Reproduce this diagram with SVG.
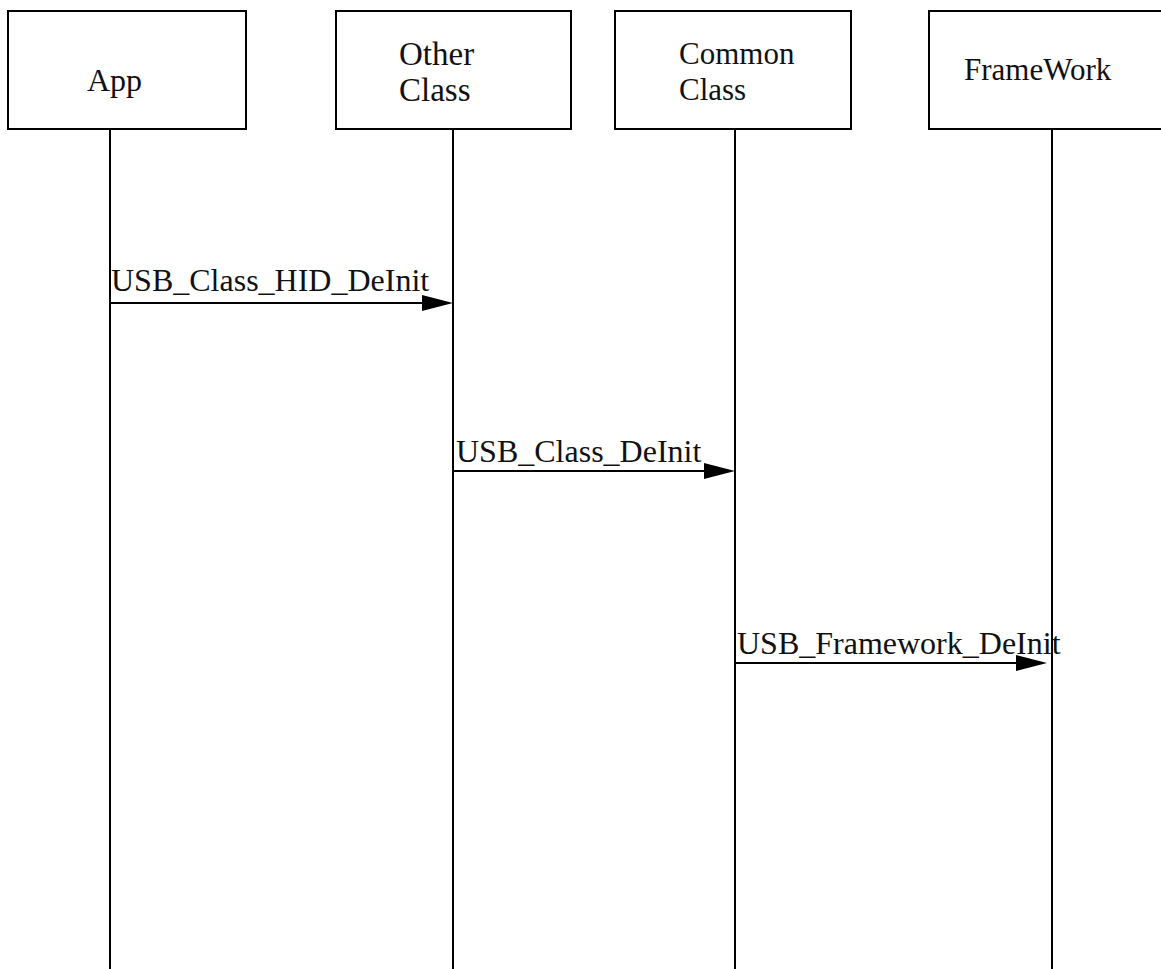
<svg xmlns="http://www.w3.org/2000/svg" width="1161" height="969" viewBox="0 0 1161 969">
  <style>
    .box { fill: #ffffff; stroke: #000000; stroke-width: 2; }
    .life { stroke: #000000; stroke-width: 2; fill: none; }
    .msg { stroke: #000000; stroke-width: 2; fill: none; }
    .head { fill: #000000; stroke: none; }
    text { font-family: "Liberation Serif", "Times New Roman", serif; font-size: 31px; fill: #111111; }
    .lbl { font-size: 32px; }
    .big { font-size: 33px; }
  </style>
  <rect width="1161" height="969" fill="#ffffff"/>

  <!-- lifelines hanging below each participant box -->
  <g id="lifelines">
    <line class="life" x1="110" y1="130" x2="110" y2="969"/>
    <line class="life" x1="453" y1="130" x2="453" y2="969"/>
    <line class="life" x1="735" y1="130" x2="735" y2="969"/>
    <line class="life" x1="1052" y1="130" x2="1052" y2="969"/>
  </g>

  <g id="node-app">
    <rect class="box" x="8" y="11" width="238" height="118"/>
    <text class="lbl" x="87" y="91">App</text>
  </g>
  <g id="node-other-class">
    <rect class="box" x="336" y="11" width="235" height="118"/>
    <text class="big" x="399" y="65">Other</text>
    <text class="big" x="399" y="101">Class</text>
  </g>
  <g id="node-common-class">
    <rect class="box" x="615" y="11" width="236" height="118"/>
    <text x="679" y="64">Common</text>
    <text x="679" y="100">Class</text>
  </g>
  <g id="node-framework">
    <rect class="box" x="929" y="11" width="240" height="118"/>
    <text x="964" y="80">FrameWork</text>
  </g>

  <!-- call messages -->
  <g id="connectors">
    <line class="msg" x1="110" y1="303" x2="424" y2="303"/>
    <polygon class="head" points="422,295 453,303 422,311"/>
    <text class="lbl" x="111" y="291">USB_Class_HID_DeInit</text>

    <line class="msg" x1="453" y1="471" x2="706" y2="471"/>
    <polygon class="head" points="704,463 735,471 704,479"/>
    <text class="lbl" x="456" y="462">USB_Class_DeInit</text>

    <line class="msg" x1="735" y1="663" x2="1018" y2="663"/>
    <polygon class="head" points="1016,655 1047,663 1016,671"/>
    <text class="lbl" x="737" y="654">USB_Framework_DeInit</text>
  </g>
</svg>
